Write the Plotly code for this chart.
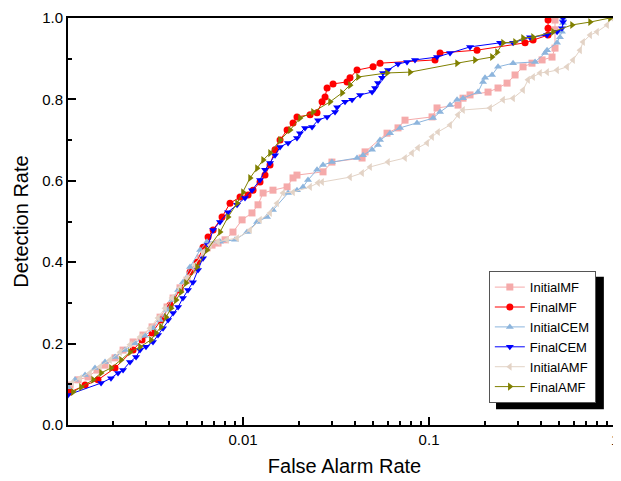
import plotly.graph_objects as go

# ---------------- data ----------------
series_names = ["InitialMF", "FinalMF", "InitialCEM", "FinalCEM", "InitialAMF", "FinalAMF"]

initial_mf_x = [0.001175, 0.001297, 0.001468, 0.001641, 0.001812, 0.002051, 0.002265, 0.002565, 0.002899,
                0.003243, 0.003581, 0.003904, 0.004207, 0.004585, 0.005, 0.005383, 0.005875, 0.006404,
                0.006813, 0.00734, 0.008004, 0.008831, 0.009885, 0.01117, 0.01204, 0.01282, 0.01449,
                0.01725, 0.01857, 0.0195, 0.02692, 0.03006, 0.04365, 0.0453, 0.05946, 0.06811, 0.07428,
                0.1038, 0.1104, 0.1432, 0.1523, 0.1661, 0.2076, 0.2349, 0.2627, 0.29, 0.3202, 0.3577,
                0.4052, 0.4583, 0.4756, 0.4756, 0.4756]
initial_mf_y = [0.098, 0.111, 0.118, 0.135, 0.147, 0.165, 0.184, 0.204, 0.221, 0.241, 0.265, 0.290, 0.312,
                0.337, 0.356, 0.381, 0.410, 0.435, 0.442, 0.447, 0.455, 0.474, 0.504, 0.521, 0.541, 0.570,
                0.577, 0.585, 0.607, 0.614, 0.622, 0.646, 0.656, 0.671, 0.717, 0.730, 0.749, 0.757, 0.779,
                0.786, 0.803, 0.811, 0.818, 0.828, 0.840, 0.860, 0.880, 0.889, 0.897, 0.904, 0.926, 0.971,
                0.995]

final_mf_x = [0.001175, 0.001415, 0.00166, 0.002051, 0.002565, 0.002864, 0.003243, 0.003622, 0.004055,
              0.004585, 0.005188, 0.005662, 0.006095, 0.006485, 0.006902, 0.007712, 0.008511, 0.009636,
              0.01064, 0.01132, 0.01234, 0.01313, 0.01397, 0.01486, 0.01581, 0.01725, 0.01857, 0.0195,
              0.02293, 0.025, 0.0266, 0.0276, 0.0283, 0.03047, 0.03624, 0.0376, 0.04101, 0.05, 0.05452,
              0.1077, 0.1146, 0.1811, 0.3282, 0.3625, 0.4363, 0.4363, 0.4363]
final_mf_y = [0.081, 0.098, 0.111, 0.140, 0.184, 0.209, 0.226, 0.258, 0.295, 0.332, 0.376, 0.400, 0.437,
              0.462, 0.479, 0.511, 0.545, 0.560, 0.565, 0.577, 0.597, 0.614, 0.639, 0.676, 0.700, 0.725,
              0.742, 0.757, 0.762, 0.767, 0.794, 0.806, 0.828, 0.838, 0.843, 0.853, 0.872, 0.880, 0.889,
              0.897, 0.914, 0.921, 0.939, 0.946, 0.958, 0.975, 0.995]

initial_cem_x = [0.001146, 0.00125, 0.001415, 0.0016, 0.001812, 0.002051, 0.002321, 0.002626, 0.002972,
                 0.003281, 0.003581, 0.003904, 0.004152, 0.004477, 0.004753, 0.005188, 0.005875, 0.006404,
                 0.007516, 0.009057, 0.01051, 0.01189, 0.01346, 0.01449, 0.01746, 0.0195, 0.02101,
                 0.02235, 0.025, 0.02692, 0.03006, 0.04101, 0.04419, 0.0494, 0.05316, 0.05452, 0.0617,
                 0.06983, 0.08616, 0.1051, 0.1146, 0.1297, 0.1415, 0.1523, 0.1834, 0.1951, 0.2, 0.2181,
                 0.2349, 0.283, 0.3715, 0.4205, 0.431, 0.4879, 0.5058, 0.5185, 0.5252, 0.5252]
initial_cem_y = [0.093, 0.111, 0.123, 0.140, 0.155, 0.167, 0.184, 0.201, 0.219, 0.238, 0.258, 0.283, 0.307,
                 0.332, 0.351, 0.388, 0.430, 0.450, 0.450, 0.455, 0.474, 0.499, 0.511, 0.528, 0.570, 0.577,
                 0.585, 0.602, 0.627, 0.639, 0.646, 0.656, 0.663, 0.676, 0.688, 0.700, 0.717, 0.730, 0.742,
                 0.754, 0.769, 0.786, 0.799, 0.803, 0.818, 0.843, 0.853, 0.860, 0.880, 0.889, 0.892, 0.914,
                 0.921, 0.939, 0.953, 0.966, 0.988, 1.0]

final_cem_x = [0.001146, 0.001725, 0.00195, 0.002128, 0.002265, 0.002467, 0.00266, 0.002793, 0.003008,
               0.003281, 0.003491, 0.003715, 0.003954, 0.004207, 0.004477, 0.004753, 0.005058, 0.005383,
               0.005728, 0.006095, 0.006485, 0.006902, 0.007516, 0.008304, 0.00929, 0.01025, 0.01117,
               0.01234, 0.01313, 0.01397, 0.01486, 0.01581, 0.01746, 0.0195, 0.02024, 0.02154, 0.0235,
               0.0253, 0.0283, 0.03124, 0.03203, 0.03535, 0.03855, 0.04257, 0.0494, 0.05123, 0.05316,
               0.0559, 0.05656, 0.06018, 0.06811, 0.07616, 0.08404, 0.1104, 0.1297, 0.1661, 0.2409,
               0.283, 0.349, 0.431, 0.4879, 0.5185, 0.5252, 0.5252]
final_cem_y = [0.074, 0.103, 0.115, 0.128, 0.135, 0.155, 0.167, 0.184, 0.192, 0.204, 0.221, 0.238, 0.258,
               0.275, 0.290, 0.312, 0.332, 0.351, 0.381, 0.410, 0.442, 0.479, 0.499, 0.523, 0.541, 0.558,
               0.577, 0.602, 0.627, 0.644, 0.663, 0.683, 0.693, 0.705, 0.717, 0.730, 0.732, 0.749, 0.757,
               0.769, 0.781, 0.794, 0.799, 0.811, 0.818, 0.828, 0.840, 0.853, 0.865, 0.872, 0.887, 0.892,
               0.897, 0.904, 0.914, 0.929, 0.939, 0.939, 0.953, 0.958, 0.966, 0.975, 0.990, 1.0]

initial_amf_x = [0.001204, 0.00133, 0.001504, 0.001702, 0.001927, 0.002182, 0.002467, 0.002793, 0.003162,
                 0.003491, 0.003807, 0.004152, 0.004585, 0.005, 0.005521, 0.006095, 0.006646, 0.00734,
                 0.008204, 0.00929, 0.01091, 0.01234, 0.01397, 0.01523, 0.01641, 0.01857, 0.02293, 0.0253,
                 0.0266, 0.0376, 0.04365, 0.04819, 0.06018, 0.07428, 0.08101, 0.08721, 0.09755, 0.1038,
                 0.1117, 0.1297, 0.1432, 0.1523, 0.2128, 0.25, 0.283, 0.3202, 0.3406, 0.3625, 0.3951,
                 0.431, 0.4879, 0.5521, 0.5945, 0.6483, 0.673, 0.7345, 0.8, 0.9057, 0.9638]
initial_amf_y = [0.103, 0.115, 0.128, 0.143, 0.160, 0.179, 0.197, 0.216, 0.238, 0.263, 0.287, 0.312, 0.337,
                 0.361, 0.393, 0.425, 0.442, 0.450, 0.455, 0.459, 0.479, 0.504, 0.521, 0.545, 0.570, 0.572,
                 0.585, 0.595, 0.597, 0.609, 0.619, 0.634, 0.646, 0.656, 0.668, 0.681, 0.693, 0.708, 0.720,
                 0.737, 0.762, 0.774, 0.779, 0.799, 0.803, 0.823, 0.848, 0.855, 0.865, 0.867, 0.872, 0.880,
                 0.897, 0.921, 0.941, 0.958, 0.966, 0.983, 1.0]

final_amf_x = [0.001219, 0.001346, 0.001563, 0.001725, 0.00195, 0.002208, 0.002467, 0.002793, 0.003199,
               0.003404, 0.003622, 0.003855, 0.004102, 0.004365, 0.004643, 0.004938, 0.005662, 0.006404,
               0.007516, 0.008304, 0.00929, 0.01, 0.01091, 0.01189, 0.01282, 0.01397, 0.01581, 0.0179,
               0.02024, 0.02378, 0.02938, 0.03407, 0.0376, 0.04153, 0.05946, 0.07901, 0.1415, 0.1767,
               0.2181, 0.2321, 0.25, 0.29, 0.3202, 0.3625, 0.4641, 0.5873, 0.7345, 0.9397]
final_amf_y = [0.081, 0.093, 0.111, 0.128, 0.140, 0.160, 0.179, 0.192, 0.209, 0.226, 0.241, 0.265, 0.287,
               0.307, 0.327, 0.349, 0.388, 0.430, 0.474, 0.511, 0.545, 0.572, 0.607, 0.631, 0.651, 0.668,
               0.700, 0.725, 0.754, 0.769, 0.794, 0.816, 0.835, 0.855, 0.865, 0.867, 0.889, 0.897, 0.904,
               0.916, 0.939, 0.941, 0.951, 0.953, 0.966, 0.983, 0.990, 1.0]

y_tick_vals = [0.0, 0.2, 0.4, 0.6, 0.8, 1.0]
y_tick_text = ["0.0", "0.2", "0.4", "0.6", "0.8", "1.0"]
x_tick_vals = [0.01, 0.1, 1]
x_tick_text = ["0.01", "0.1", "1"]
x_minor_vals = [m * d for d in (0.001, 0.01, 0.1) for m in range(2, 10)]

# ---------------- styles ----------------
styles = {
    "InitialMF": dict(color="#F5AAAA", symbol="square"),
    "FinalMF": dict(color="#FF0000", symbol="circle"),
    "InitialCEM": dict(color="#8DB5DD", symbol="triangle-up"),
    "FinalCEM": dict(color="#0000FF", symbol="triangle-down"),
    "InitialAMF": dict(color="#E3D3C6", symbol="triangle-left"),
    "FinalAMF": dict(color="#808000", symbol="triangle-right"),
}
data = {
    "InitialMF": (initial_mf_x, initial_mf_y),
    "FinalMF": (final_mf_x, final_mf_y),
    "InitialCEM": (initial_cem_x, initial_cem_y),
    "FinalCEM": (final_cem_x, final_cem_y),
    "InitialAMF": (initial_amf_x, initial_amf_y),
    "FinalAMF": (final_amf_x, final_amf_y),
}

fig = go.Figure()
for name in series_names:
    xs, ys = data[name]
    st = styles[name]
    fig.add_trace(go.Scatter(
        x=xs, y=ys, name=name, mode="lines+markers",
        line=dict(color=st["color"], width=1),
        marker=dict(color=st["color"], symbol=st["symbol"], size=7, line=dict(width=0)),
    ))

FONT = "Liberation Sans, Arial, sans-serif"

# page body has an 8px default margin: figure is sized/offset to compensate
fig.update_layout(
    width=613, height=473,
    margin=dict(l=60, r=0, t=10, b=56, autoexpand=False),
    paper_bgcolor="white", plot_bgcolor="white",
    font=dict(family=FONT, color="black", size=14),
    showlegend=True,
    legend=dict(
        x=0.761, y=0.378, xanchor="left", yanchor="top",
        bgcolor="white", bordercolor="#555555", borderwidth=1,
        font=dict(family=FONT, size=13, color="black"),
        tracegroupgap=0, itemwidth=30,
    ),
    xaxis=dict(
        type="log", range=[-2.941, 0.032], automargin=False,
        tickvals=x_tick_vals, ticktext=x_tick_text, ticklabeloverflow="allow",
        ticks="inside", ticklen=8, tickwidth=1.5, tickcolor="black",
        minor=dict(tickvals=x_minor_vals, ticks="inside", ticklen=4, tickwidth=1.5,
                   tickcolor="black", showgrid=False),
        showline=True, linecolor="black", linewidth=2, mirror=True,
        showgrid=False, zeroline=False,
        tickfont=dict(size=15),
        title=dict(text="False Alarm Rate", font=dict(size=20), standoff=12),
    ),
    yaxis=dict(
        range=[0, 1], automargin=False,
        tickvals=y_tick_vals, ticktext=y_tick_text,
        ticks="inside", ticklen=8, tickwidth=1.5, tickcolor="black",
        minor=dict(dtick=0.1, tick0=0, ticks="inside", ticklen=4, tickwidth=1.5,
                   tickcolor="black", showgrid=False),
        showline=True, linecolor="black", linewidth=2,
        showgrid=False, zeroline=False,
        tickfont=dict(size=15),
        title=dict(text="Detection Rate", font=dict(size=20), standoff=8),
    ),
    shapes=[dict(
        type="rect", xref="paper", yref="paper",
        x0=0.774, x1=0.969, y0=0.039, y1=0.364,
        fillcolor="black", line=dict(width=0), layer="above",
    )],
)

fig.write_html("out.html")
